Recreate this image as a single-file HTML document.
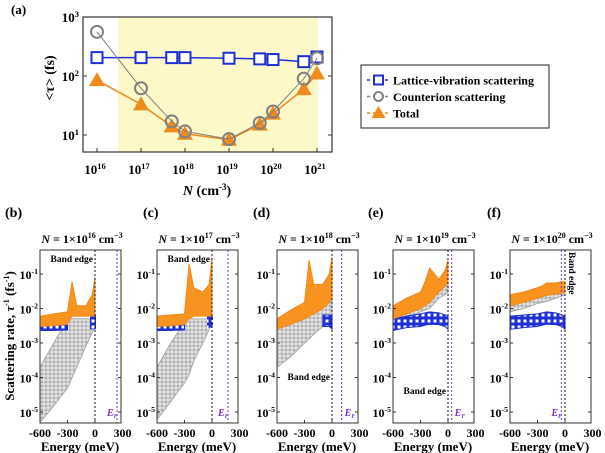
<!DOCTYPE html>
<html><head><meta charset="utf-8"><style>
html,body{margin:0;padding:0;background:#fff;}
svg{display:block;font-family:"Liberation Serif",serif;font-weight:bold;}
</style></head><body>
<svg id="fig" width="605" height="453" viewBox="0 0 605 453">
<defs>
<pattern id="bluepat" width="6" height="6" patternUnits="userSpaceOnUse"><rect width="6" height="6" fill="#1f2fd6"/><rect x="1.5" y="1.5" width="3" height="3" fill="#fff"/></pattern>
<pattern id="graypat" width="4" height="4" patternUnits="userSpaceOnUse"><rect width="4" height="4" fill="#e4e4e4"/><circle cx="2" cy="2" r="1.1" fill="none" stroke="#888" stroke-width="0.6"/></pattern>
</defs>
<g id="topG"></g>
<g id="bottom"></g>
</svg>
<script>
// ---------- Panel (a) data ----------
const nConc = [1e16, 1e17, 5e17, 1e18, 1e19, 5e19, 1e20, 5e20, 1e21];
const latticeTau = [205, 205, 205, 205, 200, 195, 190, 175, 210];
const counterTau = [560, 62, 17, 11.5, 8.5, 16, 25, 90, 200];
const totalTau = [85, 33, 14, 10.5, 8.3, 15, 23, 60, 110];
const xTickExp = [16, 17, 18, 19, 20, 21];
const yTickExp = [1, 2, 3];

// ---------- Panels (b)-(f) data ----------
const panelLabels = ["(b)", "(c)", "(d)", "(e)", "(f)"];
const panelExp = [16, 17, 18, 19, 20];
const fermiLevel = [240, 174, 105, 40, -40];
const energyKnots = [-600, -450, -300, -250, -200, -100, -30, 0];
const orangeLow = [
 [3e-3, 3.2e-3, 3.5e-3, 6e-3, 6e-3, 6e-3, 6e-3, 6e-3],
 [3e-3, 3.2e-3, 3.5e-3, 5e-3, 6e-3, 6e-3, 6e-3, 6e-3],
 [2.5e-3, 3.5e-3, 5e-3, 6e-3, 7e-3, 1e-2, 1.5e-2, 2e-2],
 [5e-3, 7e-3, 1e-2, 1.2e-2, 1.5e-2, 3e-2, 4.5e-2, 6e-2],
 [1.2e-2, 1.5e-2, 2e-2, 2.2e-2, 2.4e-2, 2.6e-2, 2.8e-2, 3e-2]];
const orangeHigh = [
 [6e-3, 7e-3, 8e-3, 6e-2, 1.2e-2, 1.2e-2, 2.5e-2, 8e-2],
 [6e-3, 6.5e-3, 7e-3, 2e-1, 4e-2, 3e-2, 5e-2, 3e-1],
 [5e-3, 9e-3, 1.5e-2, 2.5e-1, 5e-2, 5e-2, 1e-1, 3e-1],
 [1.2e-2, 2e-2, 3e-2, 6e-2, 1.5e-1, 7e-2, 1.3e-1, 2.5e-1],
 [2.5e-2, 3e-2, 4e-2, 4.5e-2, 5.5e-2, 5.5e-2, 6e-2, 6e-2]];
const blueLow = [
 [2.3e-3, 2.3e-3, 2.4e-3, null, null, null, null, 2.5e-3],
 [2.3e-3, 2.3e-3, 2.4e-3, null, null, null, null, 2.8e-3],
 [null, null, null, null, null, 3e-3, 3e-3, 2.5e-3],
 [2.3e-3, 2.8e-3, 3e-3, 3.3e-3, 3.5e-3, 3.4e-3, 3e-3, 2.5e-3],
 [2.5e-3, 2.8e-3, 3e-3, 3.3e-3, 3.5e-3, 3.4e-3, 3e-3, 2.5e-3]];
const blueHigh = [
 [6e-3, 6e-3, 6.5e-3, null, null, null, null, 6.5e-3],
 [5.5e-3, 5.5e-3, 6e-3, null, null, null, null, 6e-3],
 [null, null, null, null, null, 6.5e-3, 6.5e-3, 6e-3],
 [5e-3, 6e-3, 7e-3, 7.5e-3, 8e-3, 7.5e-3, 6.5e-3, 6e-3],
 [6e-3, 6.5e-3, 7e-3, 7.5e-3, 8e-3, 7.5e-3, 6.5e-3, 6e-3]];
const grayLow = [
 [5e-6, 1.5e-5, 5e-5, 1e-4, 2e-4, 8e-4, 2e-3, 3e-3],
 [6e-6, 2e-5, 7e-5, 1.2e-4, 3e-4, 1e-3, 2.5e-3, 4e-3],
 [2e-4, 4e-4, 1e-3, 1.3e-3, 1.8e-3, 3e-3, 4e-3, 5e-3],
 [3e-3, 5e-3, 8e-3, 9e-3, 1e-2, 2e-2, 2.5e-2, 3e-2],
 [8e-3, 1e-2, 1.4e-2, 1.5e-2, 1.6e-2, 2e-2, 2.3e-2, 2.5e-2]];
const grayHigh = [
 [2e-4, 1e-3, 5e-3, 5e-3, 5e-3, 5e-3, 5e-3, 5e-3],
 [2e-4, 1e-3, 4e-3, 5e-3, 5e-3, 5e-3, 5e-3, 5e-3],
 [2.5e-3, 3.5e-3, 5e-3, 6e-3, 7e-3, 1e-2, 1.5e-2, 2e-2],
 [5e-3, 7e-3, 1e-2, 1.2e-2, 1.5e-2, 3e-2, 4.5e-2, 6e-2],
 [1.2e-2, 1.5e-2, 2e-2, 2.2e-2, 2.4e-2, 2.6e-2, 2.8e-2, 3e-2]];
const bTickVals = [-600, -300, 0, 300];
const bYExp = [-1, -2, -3, -4, -5];

const NS = "http://www.w3.org/2000/svg";
function mk(parent, tag, attrs, text) {
  const e = document.createElementNS(NS, tag);
  for (const k in attrs) e.setAttribute(k, attrs[k]);
  if (text !== undefined) e.textContent = text;
  parent.appendChild(e);
  return e;
}
function supText(parent, x, y, base, sup, size, anchor, name) {
  const t = mk(parent, "text", {x: x, y: y, "font-size": size, "text-anchor": anchor || "middle"});
  
  
  mk(t, "tspan", {}, base);
  mk(t, "tspan", {dy: -size * 0.4, "font-size": size * 0.65}, sup);
  return t;
}

// ---------- Panel (a) ----------
const topG = document.getElementById("topG");
const ax = {l: 83, r: 332, t: 17, b: 152};
const xA = v => 97 + (Math.log10(v) - 16) * 44;
const yA = v => 135 - (Math.log10(v) - 1) * 59;
let t = mk(topG, "text", {x: 11, y: 14, "font-size": 13}, "(a)");


let r = mk(topG, "rect", {x: 118, y: ax.t, width: 318 - 118, height: ax.b - ax.t, fill: "#fcf8c8"});


r = mk(topG, "rect", {x: ax.l, y: ax.t, width: ax.r - ax.l, height: ax.b - ax.t, fill: "none", stroke: "#333", "stroke-width": 1.2});


xTickExp.forEach(e => {
  const x = xA(Math.pow(10, e));
  mk(topG, "line", {x1: x, x2: x, y1: ax.b, y2: ax.b - 4, stroke: "#333"});
  supText(topG, x - 2, 174, "10", e, 13, "middle", "x-tick-label");
});
yTickExp.forEach(e => {
  const y = yA(Math.pow(10, e));
  mk(topG, "line", {x1: ax.l, x2: ax.l + 4, y1: y, y2: y, stroke: "#333"});
  mk(topG, "line", {x1: ax.r, x2: ax.r - 4, y1: y, y2: y, stroke: "#333"});
  supText(topG, 79, y + 5, "10", e, 13, "end", "y-tick-label");
});
t = mk(topG, "text", {x: 207, y: 195, "font-size": 14, "text-anchor": "middle"});


mk(t, "tspan", {"font-style": "italic"}, "N");
mk(t, "tspan", {}, " (cm");
mk(t, "tspan", {dy: -5, "font-size": 9}, "-3");
mk(t, "tspan", {dy: 5}, ")");
t = mk(topG, "text", {x: 0, y: 0, "font-size": 14, "text-anchor": "middle", transform: "translate(54,78) rotate(-90)"}, "<τ> (fs)");



function series(vals, color, marker, name) {
  const g = mk(topG, "g", {});
  
  
  const pts = nConc.map((n, i) => xA(n) + "," + yA(vals[i])).join(" ");
  mk(g, "polyline", {points: pts, fill: "none", stroke: color, "stroke-width": marker === "c" ? 1 : 1.5});
  nConc.forEach((n, i) => {
    const x = xA(n), y = yA(vals[i]);
    let m;
    if (marker === "s") m = mk(g, "rect", {x: x - 5.5, y: y - 5.5, width: 11, height: 11, fill: "#fff", stroke: color, "stroke-width": 2});
    else if (marker === "c") m = mk(g, "circle", {cx: x, cy: y, r: 6, fill: "none", stroke: color, "stroke-width": 2});
    else m = mk(g, "polygon", {points: `${x},${y - 8} ${x - 8},${y + 6} ${x + 8},${y + 6}`, fill: color});
    
    
  });
}
series(latticeTau, "#1f2fd6", "s", "lattice-series");
series(totalTau, "#f08a1c", "t", "total-series");
series(counterTau, "#808080", "c", "counterion-series");

const lg = mk(topG, "g", {});


mk(lg, "rect", {x: 361, y: 65, width: 188, height: 63, fill: "#fff", stroke: "#222", "stroke-width": 1});
[["Lattice-vibration scattering", "#1f2fd6", "s"], ["Counterion scattering", "#808080", "c"], ["Total", "#f08a1c", "t"]].forEach((d, i) => {
  const y = 80 + i * 16.5;
  const e = mk(lg, "g", {});
  
  
  mk(e, "line", {x1: 367, x2: 390, y1: y, y2: y, stroke: d[1], "stroke-width": 1.5, "stroke-dasharray": "3,3"});
  if (d[2] === "s") mk(e, "rect", {x: 374, y: y - 4.5, width: 9, height: 9, fill: "#fff", stroke: d[1], "stroke-width": 2});
  else if (d[2] === "c") mk(e, "circle", {cx: 378.5, cy: y, r: 4.5, fill: "#fff", stroke: d[1], "stroke-width": 2});
  else mk(e, "polygon", {points: `378.5,${y - 7} 371.5,${y + 5} 385.5,${y + 5}`, fill: d[1]});
  mk(e, "text", {x: 393, y: y + 4.5, "font-size": 12}, d[0]);
});

// ---------- Panels (b)-(f) ----------
const bottom = document.getElementById("bottom");
const frameLeft = [40, 157, 277, 393, 510];
const labelX = [5, 143, 253, 368, 487];
const fT = 250, fB = 423, fW = 81;
panelExp.forEach((ex, p) => {
  const L = frameLeft[p];
  const xE = e => L + (e + 600) * 55 / 600;
  const yR = v => 274 - (Math.log10(v) + 1) * 34.5;
  const g = mk(bottom, "g", {});
  
  
  const clip = mk(g, "clipPath", {id: "clip" + p});
  mk(clip, "rect", {x: L, y: fT, width: fW, height: fB - fT});
  const pl = mk(g, "text", {x: labelX[p], y: 217, "font-size": 14}, panelLabels[p]);
  
  
  const tt = mk(g, "text", {x: L + 42, y: 243, "font-size": 12, "text-anchor": "middle"});
  
  
  mk(tt, "tspan", {"font-style": "italic"}, "N");
  mk(tt, "tspan", {}, " = 1×10");
  mk(tt, "tspan", {dy: -5, "font-size": 8}, ex);
  mk(tt, "tspan", {dy: 5}, " cm");
  mk(tt, "tspan", {dy: -5, "font-size": 8}, "−3");

  const cg = mk(g, "g", {"clip-path": `url(#clip${p})`});
  function band(lo, hi, fill, stroke, name) {
    const idx = energyKnots.map((e, i) => i).filter(i => lo[i] !== null);
    const up = idx.map(i => xE(energyKnots[i]) + "," + yR(hi[i]));
    const dn = idx.slice().reverse().map(i => xE(energyKnots[i]) + "," + yR(lo[i]));
    const pg = mk(cg, "polygon", {points: up.concat(dn).join(" "), fill: fill, stroke: stroke, "stroke-width": 1});
    
    
  }
  band(grayLow[p], grayHigh[p], "url(#graypat)", "#aaa", "counterion-rate-cloud");
  const bl = blueLow[p], bh = blueHigh[p];
  const seg = [];
  let cur = [];
  energyKnots.forEach((e, i) => { if (bl[i] === null) { if (cur.length) seg.push(cur); cur = []; } else cur.push(i); });
  if (cur.length) seg.push(cur);
  seg.forEach(s => {
    if (s.length === 1) {
      const i = s[0];
      const rr = mk(cg, "rect", {x: xE(energyKnots[i]) - 5, y: yR(bh[i]), width: 6, height: yR(bl[i]) - yR(bh[i]), fill: "url(#bluepat)"});
      
      
    } else {
      const lo = energyKnots.map((e, i) => s.includes(i) ? bl[i] : null);
      const hi = energyKnots.map((e, i) => s.includes(i) ? bh[i] : null);
      band(lo, hi, "url(#bluepat)", "#1f2fd6", "lattice-rate-cloud");
    }
  });
  band(orangeLow[p], orangeHigh[p], "#f7931e", "#f08a1c", "total-rate-cloud");

  mk(g, "rect", {x: L, y: fT, width: fW, height: fB - fT, fill: "none", stroke: "#333", "stroke-width": 1});
  const be = mk(g, "line", {x1: xE(0), x2: xE(0), y1: fT, y2: fB, stroke: "#111", "stroke-width": 1, "stroke-dasharray": "2,2"});
  
  
  const fl = mk(g, "line", {x1: xE(fermiLevel[p]), x2: xE(fermiLevel[p]), y1: fT, y2: fB, stroke: "#7a2fd0", "stroke-width": 1, "stroke-dasharray": "2,2"});
  
  
  const efLeft = (p === 0 || p === 1 || p === 4);
  const ef = mk(g, "text", {x: xE(fermiLevel[p]) + (efLeft ? -10 : 3), y: 416, "font-size": 10, fill: "#7a2fd0", "font-style": "italic"});
  
  
  mk(ef, "tspan", {}, "E");
  mk(ef, "tspan", {dy: 2, "font-size": 6}, "F");
  let bt;
  if (p < 2) bt = mk(g, "text", {x: xE(0) - 2, y: 262, "font-size": 9.5, "text-anchor": "end"}, "Band edge");
  else if (p < 4) bt = mk(g, "text", {x: xE(0) - 2, y: p === 2 ? 380 : 394, "font-size": 9.5, "text-anchor": "end"}, "Band edge");
  else bt = mk(g, "text", {x: 0, y: 0, "font-size": 9.5, transform: `translate(${xE(0) + 4},${fT + 2}) rotate(90)`}, "Band edge");
  
  
  bTickVals.forEach(v => {
    const x = xE(v);
    if (x <= L + fW) mk(g, "line", {x1: x, x2: x, y1: fB, y2: fB - 3, stroke: "#333"});
    const tl = mk(g, "text", {x: x, y: 437, "font-size": 12, "text-anchor": "middle"}, v);
    
    
  });
  bYExp.forEach(e => {
    const y = yR(Math.pow(10, e));
    mk(g, "line", {x1: L, x2: L + 3, y1: y, y2: y, stroke: "#333"});
    mk(g, "line", {x1: L + fW, x2: L + fW - 3, y1: y, y2: y, stroke: "#333"});
    supText(g, L - 2, y + 5, "10", e, 12, "end", "y-tick-label");
  });
  const xt = mk(g, "text", {x: L + 40, y: 451, "font-size": 13, "text-anchor": "middle"}, "Energy (meV)");
  
  
});
const yt = mk(bottom, "text", {x: 0, y: 0, "font-size": 13, "text-anchor": "middle", transform: "translate(14,336) rotate(-90)"});


mk(yt, "tspan", {}, "Scattering rate, ");
mk(yt, "tspan", {"font-style": "italic"}, "τ");
mk(yt, "tspan", {dy: -5, "font-size": 8}, "-1");
mk(yt, "tspan", {dy: 5}, " (fs");
mk(yt, "tspan", {dy: -5, "font-size": 8}, "-1");
mk(yt, "tspan", {dy: 5}, ")");
</script>
</body></html>
